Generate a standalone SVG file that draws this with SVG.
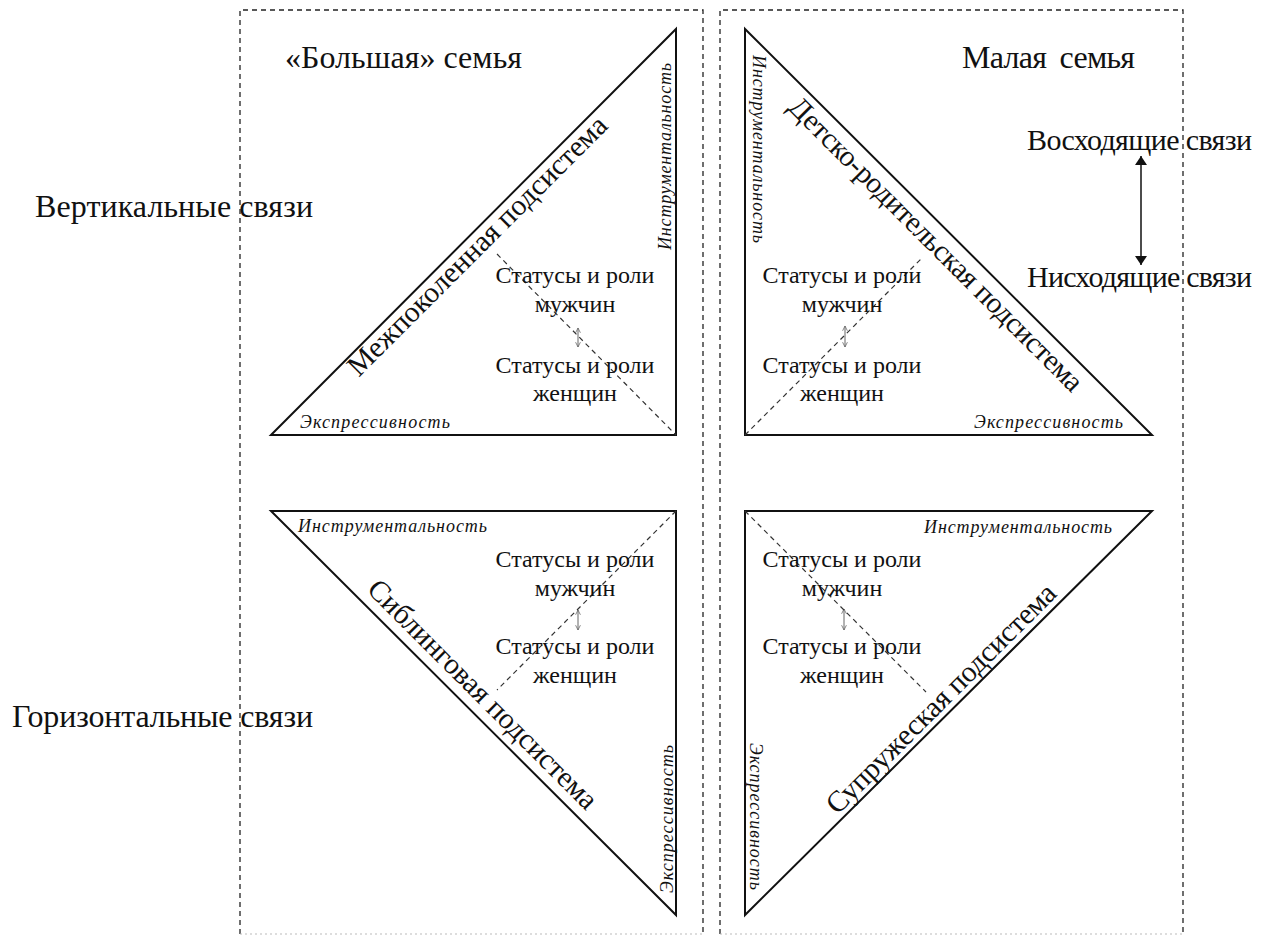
<svg xmlns="http://www.w3.org/2000/svg" width="1266" height="938" viewBox="0 0 1266 938">
<defs>
<style>
text{font-family:"Liberation Serif","Times New Roman",serif;fill:#111}
.box{fill:none;stroke:#222;stroke-width:1.3;stroke-dasharray:5 4}
.boxb{fill:none;stroke:#bbb;stroke-width:1;stroke-dasharray:2 3}
.tri{fill:none;stroke:#111;stroke-width:2;stroke-linejoin:miter}
.alt{fill:none;stroke:#333;stroke-width:1.2;stroke-dasharray:5 4}
.big{font-size:32px}
.sub{font-size:29.5px;text-anchor:middle}
.st{font-size:24px;text-anchor:middle}
.it{font-size:18px;font-style:italic}
.itm{font-size:18px;font-style:italic;text-anchor:middle}
.sarr{stroke:#666;stroke-width:1;fill:none;marker-start:url(#oh);marker-end:url(#oh)}
.barr{stroke:#111;stroke-width:1.5;fill:none;marker-start:url(#fh);marker-end:url(#fh)}
</style>
<marker id="oh" viewBox="0 0 10 10" refX="9" refY="5" markerWidth="6" markerHeight="6" orient="auto-start-reverse" markerUnits="userSpaceOnUse">
<path d="M1,1 L9,5 L1,9" fill="none" stroke="#666" stroke-width="1.3"/>
</marker>
<marker id="fh" viewBox="0 0 10 10" refX="10" refY="5" markerWidth="9" markerHeight="12" orient="auto-start-reverse" markerUnits="userSpaceOnUse" preserveAspectRatio="none">
<path d="M0,0 L10,5 L0,10 Z" fill="#111"/>
</marker>
</defs>
<rect width="1266" height="938" fill="#fff"/>

<g id="frames">
<path class="box" d="M240,934 V10 H703 V934"/>
<path class="boxb" d="M240,934 H703"/>
<path class="box" d="M720,934 V10 H1183 V934"/>
<path class="boxb" d="M720,934 H1183"/>
</g>

<g id="row-labels">
<text class="big" x="35" y="217" textLength="278" lengthAdjust="spacing">Вертикальные связи</text>
<text class="big" x="12" y="727" textLength="301" lengthAdjust="spacing">Горизонтальные связи</text>
</g>

<g id="titles">
<text class="big" x="285" y="68" textLength="237" lengthAdjust="spacing">«Большая» семья</text>
<text class="big" x="962" y="68" textLength="173" lengthAdjust="spacing" style="word-spacing:6px">Малая семья</text>
</g>

<g id="directions">
<text class="big" x="1027" y="150" textLength="225" lengthAdjust="spacing" style="font-size:30px">Восходящие связи</text>
<text class="big" x="1027" y="287" textLength="225" lengthAdjust="spacing" style="font-size:30px">Нисходящие связи</text>
</g>

<g id="connectors">
<line class="barr" x1="1141" y1="156" x2="1141" y2="265"/>
<line class="sarr" x1="578" y1="328" x2="578" y2="347"/>
<line class="sarr" x1="845" y1="326" x2="845" y2="347"/>
<line class="sarr" x1="578" y1="610" x2="578" y2="630"/>
<line class="sarr" x1="844" y1="609" x2="844" y2="630"/>
</g>

<g id="intergenerational">
<polygon class="tri" points="271,435 676,29 676,435"/>
<line class="alt" x1="497" y1="254" x2="676" y2="435"/>
<text class="sub" transform="translate(484,252.5) rotate(-45)" textLength="354" lengthAdjust="spacing">Межпоколенная подсистема</text>
<text class="it" x="300" y="428" textLength="150" lengthAdjust="spacing">Экспрессивность</text>
<text class="itm" transform="translate(671,156.5) rotate(-90)" textLength="187" lengthAdjust="spacing">Инструментальность</text>
<text class="st" x="575" y="283">Статусы и роли</text>
<text class="st" x="575" y="312">мужчин</text>
<text class="st" x="575" y="373">Статусы и роли</text>
<text class="st" x="575" y="401">женщин</text>
</g>

<g id="child-parent">
<polygon class="tri" points="745,29 745,435 1152,435"/>
<line class="alt" x1="745" y1="435" x2="923" y2="257"/>
<text class="sub" transform="translate(929.4,251.1) rotate(45)" textLength="403" lengthAdjust="spacing">Детско-родительская подсистема</text>
<text class="itm" transform="translate(753,149) rotate(90)" textLength="188" lengthAdjust="spacing">Инструментальность</text>
<text class="it" x="974" y="428" textLength="149" lengthAdjust="spacing">Экспрессивность</text>
<text class="st" x="842" y="283">Статусы и роли</text>
<text class="st" x="842" y="312">мужчин</text>
<text class="st" x="842" y="373">Статусы и роли</text>
<text class="st" x="842" y="401">женщин</text>
</g>

<g id="sibling">
<polygon class="tri" points="271,511 676,511 676,915"/>
<line class="alt" x1="676" y1="511" x2="497" y2="690"/>
<text class="sub" transform="translate(476,701) rotate(45)" textLength="312" lengthAdjust="spacing">Сиблинговая подсистема</text>
<text class="it" x="298" y="532" textLength="189" lengthAdjust="spacing">Инструментальность</text>
<text class="itm" transform="translate(673,819) rotate(-90)" textLength="148" lengthAdjust="spacing">Экспрессивность</text>
<text class="st" x="575" y="567">Статусы и роли</text>
<text class="st" x="575" y="596">мужчин</text>
<text class="st" x="575" y="654">Статусы и роли</text>
<text class="st" x="575" y="683">женщин</text>
</g>

<g id="marital">
<polygon class="tri" points="745,511 1152,511 745,915"/>
<line class="alt" x1="745" y1="511" x2="926" y2="692"/>
<text class="sub" transform="translate(947.8,705.3) rotate(-45)" textLength="312" lengthAdjust="spacing">Супружеская подсистема</text>
<text class="it" x="924" y="533" textLength="188" lengthAdjust="spacing">Инструментальность</text>
<text class="itm" transform="translate(750,816.5) rotate(90)" textLength="147" lengthAdjust="spacing">Экспрессивность</text>
<text class="st" x="842" y="567">Статусы и роли</text>
<text class="st" x="842" y="596">мужчин</text>
<text class="st" x="842" y="654">Статусы и роли</text>
<text class="st" x="842" y="683">женщин</text>
</g>
</svg>
